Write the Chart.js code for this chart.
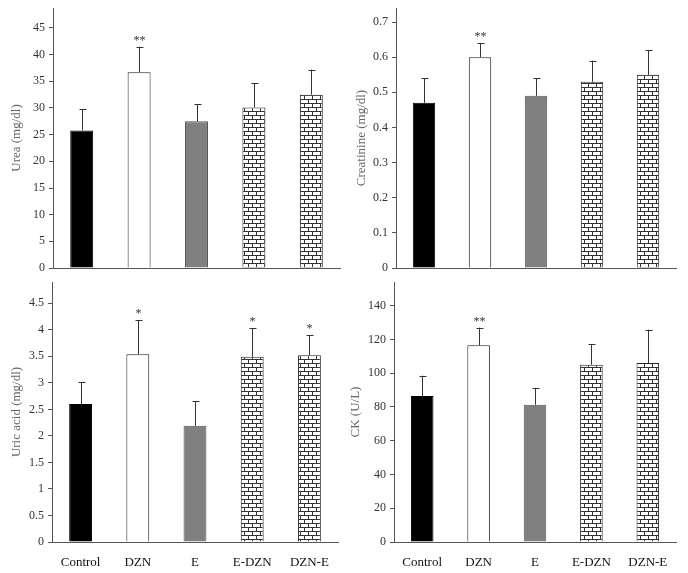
<!DOCTYPE html>
<html>
<head>
<meta charset="utf-8">
<script src="https://cdn.jsdelivr.net/npm/chart.js@4"></script>
<style>
  body { margin: 0; background: #fff; }
  .panel { position: absolute; }
</style>
</head>
<body>
<div class="panel" style="left:0;top:0"><canvas id="ureaChart" width="344" height="280"></canvas></div>
<div class="panel" style="left:344px;top:0"><canvas id="creatChart" width="344" height="280"></canvas></div>
<div class="panel" style="left:0;top:280px"><canvas id="uricChart" width="344" height="293"></canvas></div>
<div class="panel" style="left:344px;top:280px"><canvas id="ckChart" width="344" height="293"></canvas></div>
<script>
const groups = ['Control', 'DZN', 'E', 'E-DZN', 'DZN-E']

const ureaMean = [25.8, 36.7, 27.5, 30.1, 32.5]
const ureaSd = [4.0, 4.8, 3.2, 4.5, 4.7]
const ureaStars = ['', '**', '', '', '']

const creatMean = [0.47, 0.60, 0.49, 0.53, 0.55]
const creatSd = [0.07, 0.04, 0.05, 0.06, 0.07]
const creatStars = ['', '**', '', '', '']

const uricMean = [2.6, 3.54, 2.19, 3.49, 3.52]
const uricSd = [0.41, 0.64, 0.46, 0.54, 0.38]
const uricStars = ['', '*', '', '*', '*']

const ckMean = [86.5, 116.5, 81.3, 105, 106]
const ckSd = [12, 10.5, 10, 12, 19.8]
const ckStars = ['', '**', '', '', '']

const FONT = '"Liberation Serif", "Times New Roman", serif'

// brick fill like the old excel pattern
const makeBrick = () => {
    const c = document.createElement('canvas')
    c.width = 8
    c.height = 8
    const g = c.getContext('2d')
    g.fillStyle = '#fff'
    g.fillRect(0, 0, 8, 8)
    g.fillStyle = '#333'
    g.fillRect(0, 3, 8, 1)
    g.fillRect(0, 7, 8, 1)
    g.fillRect(0, 0, 1, 3)
    g.fillRect(4, 4, 1, 3)
    return g.createPattern(c, 'repeat')
}
const brick = makeBrick()

const fills = ['#000000', '#ffffff', '#808080', brick, brick]
const borders = ['#000000', '#222222', '#555555', '#222222', '#222222']

const errorBars = {
    id: 'errorBars',
    afterDatasetsDraw(chart, args, opts) {
        const ctx = chart.ctx
        const meta = chart.getDatasetMeta(0)
        const y = chart.scales.y
        ctx.save()
        ctx.strokeStyle = '#333'
        ctx.lineWidth = 1
        ctx.fillStyle = '#333'
        ctx.font = '12px ' + FONT
        ctx.textAlign = 'center'
        meta.data.forEach((bar, i) => {
            const top = y.getPixelForValue(opts.mean[i] + opts.sd[i])
            const x = Math.round(bar.x) + 0.5
            ctx.beginPath()
            ctx.moveTo(x, bar.y)
            ctx.lineTo(x, top)
            ctx.moveTo(x - 3, Math.round(top) + 0.5)
            ctx.lineTo(x + 4, Math.round(top) + 0.5)
            ctx.stroke()
            if (opts.stars[i]) {
                ctx.fillText(opts.stars[i], x, top - 3)
            }
        })
        ctx.restore()
    }
}

const makeChart = (id, mean, sd, stars, cfg) => {
    return new Chart(document.getElementById(id), {
        type: 'bar',
        data: {
            labels: groups,
            datasets: [{
                data: mean,
                backgroundColor: fills,
                borderColor: borders,
                borderWidth: 1,
                categoryPercentage: 1,
                barPercentage: 0.4
            }]
        },
        plugins: [errorBars],
        options: {
            responsive: false,
            animation: false,
            layout: { padding: cfg.padding },
            plugins: {
                legend: { display: false },
                tooltip: { enabled: false },
                errorBars: { mean, sd, stars }
            },
            scales: {
                x: {
                    grid: { display: false },
                    border: { color: '#555' },
                    ticks: {
                        display: cfg.showLabels,
                        color: '#111',
                        font: { family: FONT, size: 13 },
                        padding: 5
                    },
                    afterFit: (s) => {
                        s.height = cfg.xHeight
                        s.paddingLeft = 0
                        s.paddingRight = 0
                    }
                },
                y: {
                    min: 0,
                    max: cfg.max,
                    border: { color: '#555' },
                    grid: { drawOnChartArea: false, tickLength: 4, color: '#555' },
                    ticks: {
                        stepSize: cfg.step,
                        includeBounds: false,
                        color: '#333',
                        font: { family: FONT, size: 12 },
                        padding: 4,
                        callback: (v) => String(+v.toFixed(2))
                    },
                    title: {
                        display: true,
                        text: cfg.title,
                        color: '#666',
                        font: { family: FONT, size: 13 },
                        padding: { top: cfg.titlePad, bottom: 2 }
                    },
                    afterFit: (s) => {
                        s.width = cfg.yWidth
                        s.paddingTop = 0
                        s.paddingBottom = 0
                    }
                }
            }
        }
    })
}

makeChart('ureaChart', ureaMean, ureaSd, ureaStars, {
    title: 'Urea (mg/dl)', max: 48.75, step: 5, yWidth: 53, xHeight: 0, titlePad: 9,
    showLabels: false, padding: { top: 8, right: 4, bottom: 12, left: 0 }
})
makeChart('creatChart', creatMean, creatSd, creatStars, {
    title: 'Creatinine (mg/dl)', max: 0.74, step: 0.1, yWidth: 52, xHeight: 0, titlePad: 10,
    showLabels: false, padding: { top: 8, right: 12, bottom: 12, left: 0 }
})
makeChart('uricChart', uricMean, uricSd, uricStars, {
    title: 'Uric acid (mg/dl)', max: 4.9, step: 0.5, yWidth: 52, xHeight: 31, titlePad: 9,
    showLabels: true, padding: { top: 2, right: 6, bottom: 0, left: 0 }
})
makeChart('ckChart', ckMean, ckSd, ckStars, {
    title: 'CK (U/L)', max: 154, step: 20, yWidth: 50, xHeight: 31, titlePad: 4,
    showLabels: true, padding: { top: 2, right: 12, bottom: 0, left: 0 }
})
</script>
</body>
</html>
